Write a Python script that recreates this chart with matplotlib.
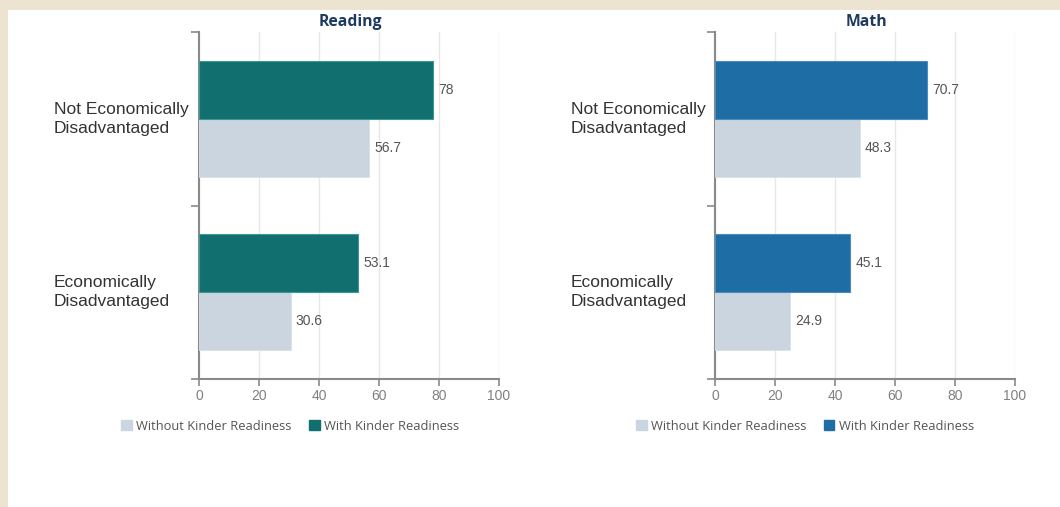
import matplotlib.pyplot as plt
import matplotlib.patches as mpatches
import matplotlib.transforms as mtrans
import numpy as np

categories = ["Economically\nDisadvantaged", "Not Economically\nDisadvantaged"]
subjects = ["Reading", "Math"]
without_vals = {"Reading": [30.6, 56.7], "Math": [24.9, 48.3]}
with_vals = {"Reading": [53.1, 78], "Math": [45.1, 70.7]}
series_names = ["Without Kinder Readiness", "With Kinder Readiness"]
xticks = [0, 20, 40, 60, 80, 100]

with_colors = {"Reading": "#11706f", "Math": "#1f6da5"}
with_edges = {"Reading": "#3f9794", "Math": "#4b8cc0"}
without_color = "#cbd5e0"
axis_gray = "#8a8a8a"

W, H = 1060, 507
fig = plt.figure(figsize=(W / 100, H / 100), dpi=100, facecolor="#ece3d0")
fig.patches.append(mpatches.Rectangle((8 / W, 0), 1 - 8 / W, 1 - 10 / H,
                                      transform=fig.transFigure,
                                      facecolor="white", edgecolor="none", zorder=-5))

# pixel layout for each panel: axes left/right, label x, legend centre
panels = {
    "Reading": dict(left=199, right=499, label_x=54, legend_x=290),
    "Math": dict(left=715, right=1015, label_x=571, legend_x=805),
}
top_px, bottom_px = 32, 379

y = np.arange(len(categories)) + 0.5
h = 1 / 3

for subj in subjects:
    p = panels[subj]
    ax = fig.add_axes([p["left"] / W, 1 - bottom_px / H,
                       (p["right"] - p["left"]) / W, (bottom_px - top_px) / H])
    ax.set_facecolor("none")
    b1 = ax.barh(y - h / 2, without_vals[subj], height=h, color=without_color,
                 edgecolor="#d8e0e9", linewidth=0.6, zorder=3)
    b2 = ax.barh(y + h / 2, with_vals[subj], height=h, color=with_colors[subj],
                 edgecolor=with_edges[subj], linewidth=0.8, zorder=3)
    for bars, vals in ((b1, without_vals[subj]), (b2, with_vals[subj])):
        for bar, v in zip(bars, vals):
            ax.text(v + 1.7, bar.get_y() + bar.get_height() / 2, f"{v:g}",
                    va="center", ha="left", fontsize=10, color="#555555",
                    family="Liberation Sans")

    ax.set_xlim(0, 100)
    ax.set_ylim(0, 2)
    ax.set_xticks(xticks)
    ax.set_xticklabels([str(t) for t in xticks], fontsize=10, color="#808080",
                       family="Liberation Sans")
    ax.set_yticks([0, 1, 2])
    ax.set_yticklabels([])
    ax.tick_params(axis="x", length=5, width=1.2, color=axis_gray, pad=2)
    ax.tick_params(axis="y", length=6, width=1.2, color=axis_gray)
    ax.grid(axis="x", color="#e8e8e8", linewidth=1, zorder=0)
    for s in ("top", "right"):
        ax.spines[s].set_visible(False)
    for s in ("left", "bottom"):
        ax.spines[s].set_color(axis_gray)
        ax.spines[s].set_linewidth(1.5)

    trans = mtrans.blended_transform_factory(fig.transFigure, ax.transData)
    for yy, cat in zip(y, categories):
        ax.text(p["label_x"] / W, yy, cat, transform=trans, ha="left",
                va="center", fontsize=12.5, color="#333333",
                family="Liberation Sans", linespacing=1.3)

    fig.text(((p["left"] + p["right"]) / 2 + 1) / W, 1 - 22 / H, subj,
             ha="center", va="center", fontsize=11.3, fontweight="bold",
             color="#1f3a60", family="Open Sans")

    handles = [mpatches.Patch(color=without_color, label=series_names[0]),
               mpatches.Patch(color=with_colors[subj], label=series_names[1])]
    fig.legend(handles=handles, loc="center",
               bbox_to_anchor=(p["legend_x"] / W, 1 - 426 / H), ncol=2,
               frameon=False, handlelength=0.85, handleheight=0.85,
               handletextpad=0.35, columnspacing=1.3,
               prop={"family": "Open Sans", "size": 9.3},
               labelcolor="#555555")

fig.savefig("out.png", dpi=100, facecolor=fig.get_facecolor())
